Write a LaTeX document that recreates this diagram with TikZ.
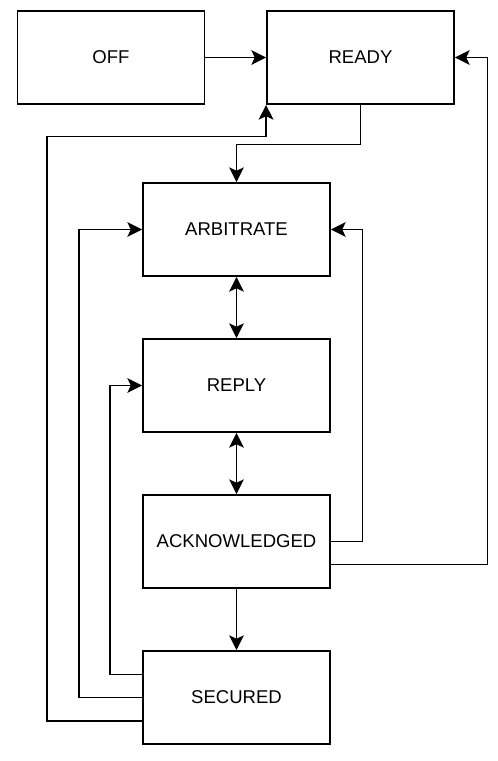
\documentclass[tikz,border=0pt]{standalone}
\usepackage{fontspec}
\setmainfont{Liberation Sans}
\usetikzlibrary{calc,arrows.meta}

\begin{document}
\begin{tikzpicture}[x=0.75pt, y=-0.75pt, line width=1.4pt,
    state/.style={rectangle, draw=black, line width=1.4pt, fill=white,
        minimum width=140.25pt, minimum height=69.75pt,
        font=\fontsize{13.9}{16}\selectfont},
    link/.style={draw=black, line width=1.4pt, -{Stealth[length=11pt, width=11pt, inset=2.5pt]}},
    both/.style={draw=black, line width=1.4pt, {Stealth[length=11pt, width=11pt, inset=2.5pt]}-{Stealth[length=11pt, width=11pt, inset=2.5pt]}}]
    \useasboundingbox (0,0) rectangle (497,761);

    \node[state] (off) at (111,57.5) {OFF};
    
    \node[state] (ready) at ($(off) + (249.5, 0)$) {READY};
    
    \node[state] (arb) at (236.5,229.5) {ARBITRATE};
    
    \node[state] (rep) at ($(arb) + (0, 156)$) {REPLY};
    
    \node[state] (ack) at ($(rep) + (0, 156)$) {ACKNOWLEDGED};
    
    \node[state] (sec) at ($(ack) + (0, 156)$) {SECURED};
    
    \draw[link] (off) -- (ready);
    \draw[link] (ready.south) -- ++(0,39.5) -| (arb.north);
    \draw[both] (arb) -- (rep);
    \draw[both] (rep) -- (ack);
    \draw[link] (ack) -- (sec);
    
    \draw[link] (ack.east) -- ++(31.5,0) |- (arb.east);
    \draw[link] ($(ack.east) + (0,23)$) -- ++(156.5,0) |- (ready.east);
    
    \draw[link] ($(sec.west) + (0,-23)$) -- ++(-32,0) |- (rep.west);
    \draw[link] (sec.west) -- ++(-63.5,0) |- (arb.west);
    \draw[link] ($(sec.west) + (0,23.5)$) -- ++(-95,0) |- ($(ready.south west) + (0,31.5)$) -- (ready.south west);
    
\end{tikzpicture}
\end{document}
